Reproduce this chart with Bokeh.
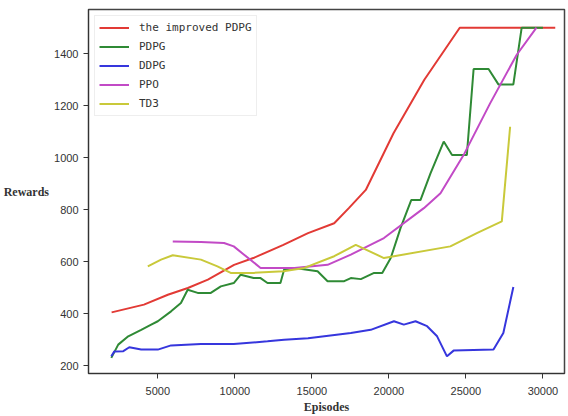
from bokeh.plotting import figure
from bokeh.models import Range1d, Legend, LegendItem
from bokeh.embed import file_html
from bokeh.resources import INLINE

x_ticks = [5000, 10000, 15000, 20000, 25000, 30000]
y_ticks = [200, 400, 600, 800, 1000, 1200, 1400]

improved_x = [2000, 4100, 5650, 6950, 8250, 9950, 11200, 13150, 14750, 16450, 17400, 18500, 20300, 22300, 24600, 30800]
improved_y = [405, 435, 473, 499, 531, 588, 614, 665, 710, 748, 806, 876, 1094, 1300, 1500, 1500]

pdpg_x = [1980, 2430, 3080, 3920, 4570, 5000, 5860, 6500, 6940, 7590, 8440, 9090, 9930, 10380, 11220, 11670,
          12120, 12960, 13200, 13900, 15370, 16020, 17100, 17530, 18180, 19040, 19570, 20120, 20760, 21450,
          22050, 22700, 23560, 24100, 25060, 25500, 26470, 27110, 28080, 28620, 30000]
pdpg_y = [230, 281, 313, 338, 358, 371, 409, 441, 492, 480, 480, 505, 518, 550, 537, 537,
          518, 518, 570, 576, 563, 525, 525, 537, 533, 557, 557, 614, 730, 837,
          837, 940, 1062, 1010, 1010, 1341, 1341, 1282, 1282, 1500, 1500]

ddpg_x = [1980, 2180, 2760, 3150, 3920, 5000, 5860, 7800, 9930, 12120, 13200, 14750, 17530, 18820, 20330,
          20970, 21730, 22480, 23130, 23770, 24200, 26790, 27430, 28080]
ddpg_y = [236, 255, 256, 271, 262, 262, 278, 283, 283, 294, 300, 306, 326, 338, 371,
          358, 371, 352, 313, 236, 258, 262, 326, 503]

ppo_x = [5970, 7800, 9300, 9930, 10600, 11670, 13160, 13870, 16020, 17530, 19680, 22270, 23350, 24850, 26570, 28290, 29580]
ppo_y = [678, 676, 672, 659, 627, 576, 576, 576, 588, 627, 691, 806, 863, 1010, 1209, 1395, 1500]

td3_x = [4350, 5210, 5970, 7800, 8870, 9730, 11220, 13160, 14510, 16450, 17850, 19680, 20330, 23990, 25710, 27330, 27870]
td3_y = [582, 608, 625, 608, 582, 557, 557, 563, 576, 621, 665, 614, 621, 659, 710, 755, 1119]

p = figure(width=568, height=416, output_backend="svg", toolbar_location=None,
           x_range=Range1d(500, 31400), y_range=Range1d(170, 1570),
           min_border_left=88, min_border_right=4, min_border_top=9, min_border_bottom=40)
p.grid.visible = False
p.outline_line_color = "#444444"
p.outline_line_width = 1.5
p.background_fill_color = "white"
p.border_fill_color = "white"

series = [
    ("the improved PDPG", improved_x, improved_y, "#e23a35"),
    ("PDPG", pdpg_x, pdpg_y, "#2f8a35"),
    ("DDPG", ddpg_x, ddpg_y, "#3636dd"),
    ("PPO", ppo_x, ppo_y, "#c24ac6"),
    ("TD3", td3_x, td3_y, "#c9c93a"),
]
items = []
for name, xs, ys, c in series:
    r = p.line(xs, ys, line_color=c, line_width=2)
    items.append(LegendItem(label=name, renderers=[r]))

legend = Legend(items=items, location="top_left", margin=6, padding=4, spacing=4,
                label_height=15, glyph_height=15, glyph_width=30,
                label_text_font="DejaVu Sans Mono", label_text_font_size="11px",
                label_text_color="#333333", border_line_color="#dddddd",
                background_fill_alpha=1.0, label_standoff=10)
p.add_layout(legend)

for ax in (p.xaxis, p.yaxis):
    ax.major_tick_in = 0
    ax.major_tick_out = 5
    ax.minor_tick_line_color = None
    ax.axis_line_color = "#333333"
    ax.major_tick_line_color = "#333333"
    ax.major_label_text_font = "Liberation Sans"
    ax.major_label_text_font_size = "11px"
    ax.major_label_text_color = "#333333"
    ax.axis_label_text_font = "Liberation Serif"
    ax.axis_label_text_font_size = "12px"
    ax.axis_label_text_font_style = "bold"
    ax.axis_label_text_color = "#333333"

p.xaxis.ticker = x_ticks
p.yaxis.ticker = y_ticks
p.xaxis.axis_label = "Episodes"
p.xaxis.major_label_standoff = 8
p.xaxis.axis_label_standoff = 2
p.yaxis.axis_label = "Rewards"
p.yaxis.axis_label_orientation = "horizontal"
p.yaxis.axis_label_standoff = 2

open("out.html", "w").write(file_html(p, INLINE))
